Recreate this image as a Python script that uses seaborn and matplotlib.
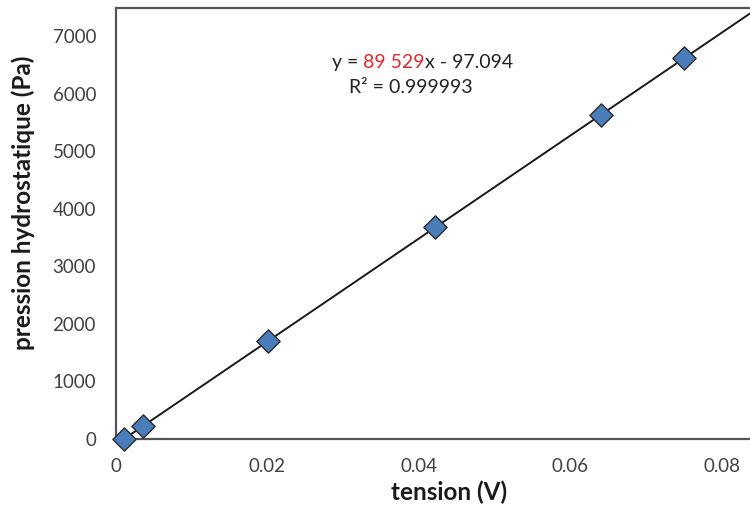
import numpy as np
import pandas as pd
import matplotlib
matplotlib.use("Agg")
import matplotlib.pyplot as plt
import seaborn as sns

# values
tension = [0.0011, 0.0036, 0.0201, 0.0422, 0.0641, 0.0750]
pression = [0, 220, 1700, 3680, 5640, 6620]
x_ticks = [0, 0.02, 0.04, 0.06, 0.08]
x_labels = ['0', '0.02', '0.04', '0.06', '0.08']
y_ticks = [0, 1000, 2000, 3000, 4000, 5000, 6000, 7000]

sns.set_style("white")
plt.rcParams['font.family'] = ['Lato', 'DejaVu Sans']

df = pd.DataFrame({'tension': tension, 'pression': pression})

fig = plt.figure(figsize=(7.5, 5.11), dpi=100)
ax = fig.add_axes([0.154, 0.141, 0.846, 0.843])

# trend line (least squares fit of the points)
slope, intercept = np.polyfit(df['tension'], df['pression'], 1)
xmax = 0.0837
xl = np.array([0, xmax])
ax.plot(xl, slope * xl + intercept, color='#1a1a1a', lw=1.4, zorder=2)

sns.scatterplot(x='tension', y='pression', data=df, marker='D', s=140,
                color='#4a7ebb', edgecolor='#2b2b2b', linewidth=1.0,
                ax=ax, zorder=3, clip_on=False)

ax.set_xlim(0, xmax)
ax.set_ylim(0, 7490)
ax.set_xticks(x_ticks)
ax.set_xticklabels(x_labels)
ax.set_yticks(y_ticks)
ax.tick_params(axis='both', direction='out', length=4, width=1.3,
               color='#555555', labelsize=13.5, labelcolor='#404040')
ax.tick_params(axis='y', pad=10)
ax.tick_params(axis='x', pad=10)
for side in ['left', 'bottom', 'top']:
    ax.spines[side].set_color('#555555')
    ax.spines[side].set_linewidth(1.6)
ax.spines['right'].set_visible(False)

ax.set_xlabel('tension (V)', fontsize=17.5, fontweight='bold', color='#1a1a1a')
ax.set_ylabel('pression hydrostatique (Pa)', fontsize=17.5, fontweight='bold',
              color='#1a1a1a')
ax.xaxis.set_label_coords(0.526, -0.097)
ax.yaxis.set_label_coords(-0.127, 0.548)

# equation text with red coefficient
t1 = fig.text(0.443, 0.861, 'y =', fontsize=14, color='#222222', va='bottom')
t2 = ax.annotate('89 529', xy=(1, 0), xycoords=t1, xytext=(3.5, 0),
                 textcoords='offset points', fontsize=14, color='#e8262b', va='bottom')
ax.annotate('x - 97.094', xy=(1, 0), xycoords=t2, fontsize=14, color='#222222', va='bottom')
fig.text(0.465, 0.812, 'R² = 0.999993', fontsize=14, color='#222222', va='bottom')

fig.savefig('out.png', dpi=100)
